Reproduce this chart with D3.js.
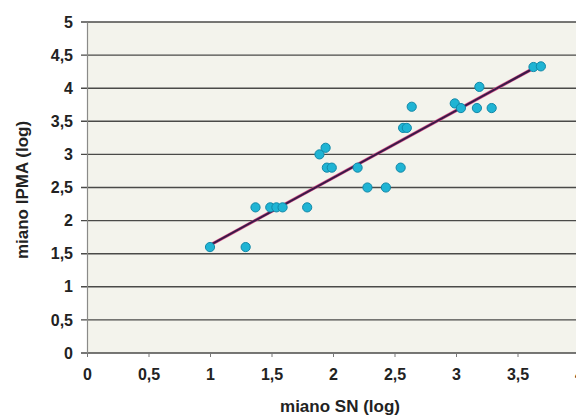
<!DOCTYPE html>
<html>
<head>
<meta charset="utf-8">
<script src="https://cdn.jsdelivr.net/npm/d3@7"></script>
<style>
  body { margin: 0; background: #fff; }
  text { font-family: "Liberation Sans Narrow", "Arial Narrow", "Liberation Sans", sans-serif; font-weight: bold; fill: #222; }
</style>
</head>
<body>
<svg width="576" height="417"></svg>
<script>
// valori (log)
var snValues = [1.0, 1.29, 1.37, 1.49, 1.54, 1.59, 1.79, 1.89, 1.94, 1.95, 1.99, 2.2, 2.28, 2.43, 2.55, 2.57, 2.6, 2.64, 2.99, 3.04, 3.17, 3.19, 3.29, 3.63, 3.69];
var ipmaValues = [1.6, 1.6, 2.2, 2.2, 2.2, 2.2, 2.2, 3.0, 3.1, 2.8, 2.8, 2.8, 2.5, 2.5, 2.8, 3.4, 3.4, 3.72, 3.77, 3.7, 3.7, 4.02, 3.7, 4.32, 4.33];
var trendX = [1.0, 3.62];
var trendY = [1.63, 4.29];
var xTicks = [0, 0.5, 1, 1.5, 2, 2.5, 3, 3.5, 4];
var yTicks = [0, 0.5, 1, 1.5, 2, 2.5, 3, 3.5, 4, 4.5, 5];

var svg = d3.select("svg");
var fmt = function (d) { return String(d).replace(".", ","); };

var x = d3.scaleLinear().domain([0, 4]).range([87, 579]);
var y = d3.scaleLinear().domain([0, 5]).range([353, 22]);

// sfondo area grafico
svg.append("rect")
    .attr("x", x(0)).attr("y", y(5))
    .attr("width", 576 - x(0)).attr("height", y(0) - y(5))
    .attr("fill", "#f3f3ec");

// griglia
svg.append("g").selectAll("line")
    .data(yTicks)
    .enter().append("line")
    .attr("x1", x(0) - 6).attr("x2", 576)
    .attr("y1", function (d) { return y(d); })
    .attr("y2", function (d) { return y(d); })
    .attr("stroke", "#4a4a48")
    .attr("stroke-width", 1.4);

// asse y
var yAxis = svg.append("g")
    .attr("transform", "translate(" + x(0) + ",0)")
    .call(d3.axisLeft(y).tickValues(yTicks).tickFormat(fmt).tickSize(0).tickPadding(14));
yAxis.select(".domain").attr("stroke", "#8a8a88").attr("stroke-width", 1.2);
yAxis.selectAll("text").style("font-size", "16px");

// asse x
var xAxis = svg.append("g")
    .attr("transform", "translate(0," + y(0) + ")")
    .call(d3.axisBottom(x).tickValues(xTicks).tickFormat(fmt).tickSize(4).tickPadding(12));
xAxis.select(".domain").remove();
xAxis.selectAll(".tick line").attr("stroke", "#777");
xAxis.selectAll("text").style("font-size", "16px");

// linea di tendenza
svg.append("line")
    .attr("x1", x(trendX[0])).attr("y1", y(trendY[0]))
    .attr("x2", x(trendX[1])).attr("y2", y(trendY[1]))
    .attr("stroke", "#d8508a").attr("stroke-width", 3.2);
svg.append("line")
    .attr("x1", x(trendX[0])).attr("y1", y(trendY[0]))
    .attr("x2", x(trendX[1])).attr("y2", y(trendY[1]))
    .attr("stroke", "#3a1a48").attr("stroke-width", 2);

// punti
svg.append("g").selectAll("circle")
    .data(snValues)
    .enter().append("circle")
    .attr("cx", function (d) { return x(d); })
    .attr("cy", function (d, i) { return y(ipmaValues[i]); })
    .attr("r", 4.6)
    .attr("fill", "#1fb4d4")
    .attr("stroke", "#1188a8")
    .attr("stroke-width", 1);

// titoli assi
svg.append("text")
    .attr("x", 340).attr("y", 412)
    .attr("text-anchor", "middle")
    .style("font-size", "17px")
    .text("miano SN (log)");

svg.append("text")
    .attr("transform", "translate(28,190) rotate(-90)")
    .attr("text-anchor", "middle")
    .style("font-size", "17px")
    .text("miano IPMA (log)");
</script>
</body>
</html>
